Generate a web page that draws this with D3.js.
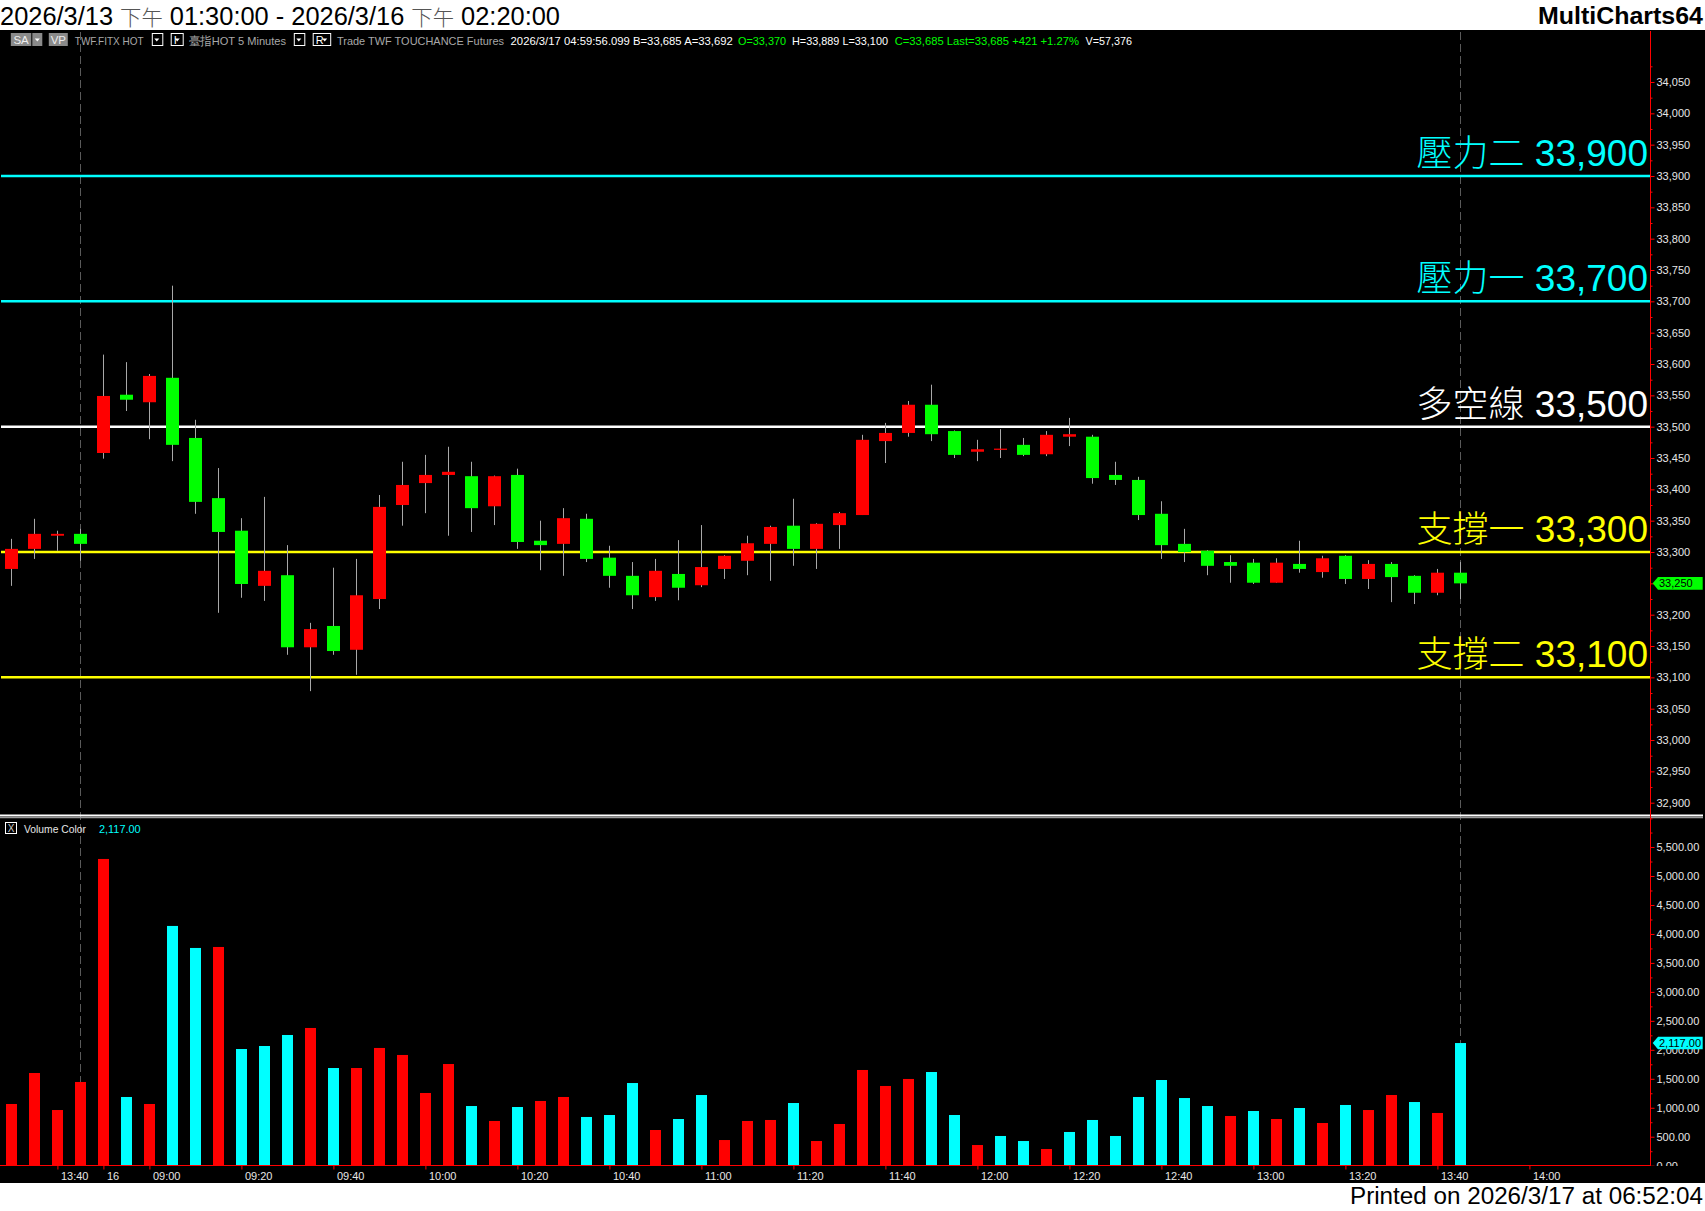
<!DOCTYPE html>
<html>
<head>
<meta charset="utf-8">
<script src="https://cdn.jsdelivr.net/npm/d3@7"></script>
<style>
body { margin: 0; background: #fff; }
svg { display: block; }
text { font-family: "Liberation Sans", Arial, sans-serif; }
.cjk { font-family: "Noto Sans CJK TC", "Noto Sans CJK SC", sans-serif; }
.axis text { fill: #e6e6e6; font-size: 11px; font-family: "Liberation Sans", Arial, sans-serif; }
.axis line { stroke: #ff0000; }
</style>
</head>
<body>
<script>
// TWF.FITX HOT 5 min bars, 3/13 13:30 .. 3/16 13:45 (index 0..63)
var opens = [33273, 33305, 33326, 33329, 33458, 33551, 33539, 33578, 33482, 33386,
             33334, 33246, 33263, 33148, 33182, 33144, 33225, 33375, 33410, 33423,
             33421, 33373, 33423, 33318, 33313, 33353, 33291, 33262, 33228, 33265,
             33247, 33273, 33286, 33313, 33342, 33305, 33343, 33359, 33477, 33490,
             33535, 33493, 33460, 33463, 33471, 33456, 33484, 33484, 33423, 33415,
             33361, 33313, 33302, 33284, 33283, 33251, 33281, 33268, 33294, 33257,
             33281, 33262, 33235, 33267];
var highs = [33321, 33353, 33334, 33337, 33615, 33603, 33584, 33725, 33511, 33434,
             33354, 33388, 33311, 33187, 33275, 33289, 33391, 33444, 33455, 33468,
             33444, 33422, 33433, 33350, 33370, 33361, 33310, 33284, 33289, 33319,
             33343, 33295, 33326, 33342, 33385, 33346, 33364, 33487, 33506, 33541,
             33567, 33494, 33479, 33496, 33482, 33493, 33514, 33487, 33444, 33420,
             33381, 33337, 33303, 33295, 33289, 33290, 33318, 33294, 33295, 33287,
             33284, 33263, 33273, 33284];
var lows = [33246, 33289, 33302, 33286, 33449, 33525, 33480, 33445, 33361, 33203,
            33227, 33222, 33136, 33078, 33136, 33104, 33209, 33342, 33362, 33326,
            33332, 33343, 33305, 33271, 33262, 33284, 33243, 33209, 33222, 33223,
            33244, 33257, 33263, 33254, 33278, 33273, 33305, 33359, 33442, 33484,
            33477, 33450, 33445, 33450, 33453, 33453, 33469, 33409, 33407, 33351,
            33289, 33284, 33263, 33251, 33249, 33251, 33267, 33259, 33249, 33241,
            33220, 33217, 33231, 33225];
var closes = [33305, 33329, 33329, 33313, 33549, 33543, 33581, 33471, 33380, 33332,
              33249, 33270, 33148, 33177, 33142, 33231, 33372, 33407, 33423, 33428,
              33370, 33421, 33316, 33311, 33354, 33289, 33262, 33231, 33270, 33243,
              33276, 33294, 33314, 33340, 33305, 33345, 33362, 33479, 33490, 33535,
              33488, 33455, 33464, 33465, 33455, 33487, 33488, 33418, 33415, 33359,
              33311, 33300, 33278, 33278, 33251, 33283, 33273, 33290, 33257, 33281,
              33260, 33235, 33267, 33250];
var volumes = [1065, 1600, 961, 1445, 5294, 1186, 1065, 4138, 3758, 3775,
               2014, 2066, 2256, 2377, 1686, 1686, 2032, 1911, 1255, 1755,
               1030, 772, 1013, 1117, 1186, 841, 875, 1427, 616, 806,
               1220, 443, 772, 789, 1082, 426, 720, 1652, 1376, 1497,
               1617, 875, 357, 513, 426, 288, 582, 789, 513, 1186,
               1479, 1168, 1030, 858, 944, 806, 996, 737, 1048, 961,
               1220, 1099, 910, 2117];
// 1 = red volume bar, 0 = cyan
var volUp = [1, 1, 1, 1, 1, 0, 1, 0, 0, 1,
             0, 0, 0, 1, 0, 1, 1, 1, 1, 1,
             0, 1, 0, 1, 1, 0, 0, 0, 1, 0,
             0, 1, 1, 1, 0, 1, 1, 1, 1, 1,
             0, 0, 1, 0, 0, 1, 0, 0, 0, 0,
             0, 0, 0, 1, 0, 1, 0, 1, 0, 1,
             1, 0, 1, 0];

var tickIdx = [2, 4, 6, 10, 14, 18, 22, 26, 30, 34, 38, 42, 46, 50, 54, 58, 62, 66];
var tickLabels = ["13:40", "16", "09:00", "09:20", "09:40", "10:00", "10:20", "10:40", "11:00",
                  "11:20", "11:40", "12:00", "12:20", "12:40", "13:00", "13:20", "13:40", "14:00"];
var sessionEnds = [3, 63];   // 13:45 bars

var levels = [33900, 33700, 33500, 33300, 33100];
var levelNames = ["壓力二", "壓力一", "多空線", "支撐一", "支撐二"];
var levelColors = ["#00ffff", "#00ffff", "#ffffff", "#ffff00", "#ffff00"];

var lastPrice = 33250;
var lastVolume = 2117;

var width = 1705, height = 1211;
var axisX = 1650;

var svg = d3.select("body").append("svg")
    .attr("width", width)
    .attr("height", height);

// backgrounds
svg.append("rect").attr("width", width).attr("height", height).attr("fill", "#fff");
svg.append("rect").attr("x", 0).attr("y", 30).attr("width", width).attr("height", 1153).attr("fill", "#000");

var x = d3.scaleLinear().domain([0, 63]).range([11.4, 1460.4]);
var y = d3.scaleLinear().domain([32900, 33900]).range([802.7, 176]);
var yv = d3.scaleLinear().domain([0, 5000]).range([1165.7, 876]);

// title + footer
var title = svg.append("text").attr("x", 0).attr("y", 25).attr("font-size", 25).attr("fill", "#000")
    .attr("textLength", 560).attr("lengthAdjust", "spacingAndGlyphs");
title.append("tspan").text("2026/3/13 ");
title.append("tspan").attr("class", "cjk").attr("fill", "#555").attr("font-weight", 300).attr("font-size", 21).text("下午");
title.append("tspan").text(" 01:30:00 - 2026/3/16 ");
title.append("tspan").attr("class", "cjk").attr("fill", "#555").attr("font-weight", 300).attr("font-size", 21).text("下午");
title.append("tspan").text(" 02:20:00");

svg.append("text").attr("x", 1703).attr("y", 23.5).attr("text-anchor", "end")
    .attr("font-size", 23).attr("font-weight", "bold").attr("fill", "#000")
    .attr("textLength", 165).attr("lengthAdjust", "spacingAndGlyphs")
    .text("MultiCharts64");

svg.append("text").attr("x", 1703).attr("y", 1203.5).attr("text-anchor", "end")
    .attr("font-size", 23).attr("fill", "#000")
    .attr("textLength", 353).attr("lengthAdjust", "spacingAndGlyphs")
    .text("Printed on 2026/3/17 at 06:52:04");

// info bar
var info = svg.append("g");
function grayBox(x0, w, label) {
    info.append("rect").attr("x", x0).attr("y", 33).attr("width", w).attr("height", 13).attr("fill", "#8a8a8a");
    info.append("text").attr("x", x0 + w / 2).attr("y", 44).attr("text-anchor", "middle")
        .attr("font-size", 11.5).attr("fill", "#eee").text(label);
}
function dropBox(x0, w, label) {
    info.append("rect").attr("x", x0 + 0.5).attr("y", 33.5).attr("width", w).attr("height", 12)
        .attr("fill", "#000").attr("stroke", "#fff");
    var ax = x0 + w - 5.5;
    if (label) {
        info.append("text").attr("x", x0 + 3).attr("y", 44).attr("font-size", 11).attr("fill", "#fff").text(label);
    }
    info.append("path").attr("d", "M" + (ax - 2.5) + ",38.5L" + (ax + 2.5) + ",38.5L" + ax + ",41.5Z").attr("fill", "#fff");
}
grayBox(10.8, 20.5, "SA");
info.append("rect").attr("x", 32.3).attr("y", 33).attr("width", 10).attr("height", 13).attr("fill", "#8a8a8a");
info.append("path").attr("d", "M34.8,38.5L39.8,38.5L37.3,41.5Z").attr("fill", "#fff");
grayBox(48.8, 19, "VP");
dropBox(151.8, 10.5, null);
dropBox(170.7, 12, "I");
dropBox(293.8, 10.5, null);
dropBox(312.7, 17.5, "R");

var infoTexts = [
    [74.8, 68.8, "TWF.FITX HOT", "#a8a8a8"],
    [188.6, 97.4, "臺指HOT 5 Minutes", "#a8a8a8"],
    [337, 167, "Trade TWF TOUCHANCE Futures", "#a8a8a8"],
    [510.6, 222.2, "2026/3/17 04:59:56.099 B=33,685 A=33,692", "#ffffff"],
    [738, 48, "O=33,370", "#00ff00"],
    [792, 96, "H=33,889 L=33,100", "#ffffff"],
    [894.7, 184.3, "C=33,685 Last=33,685 +421 +1.27%", "#00ff00"],
    [1085.5, 46.5, "V=57,376", "#ffffff"]
];
info.selectAll("text.info").data(infoTexts).enter().append("text")
    .attr("class", "info")
    .attr("x", function(d) { return d[0]; })
    .attr("y", 45)
    .attr("font-size", 11.5)
    .attr("fill", function(d) { return d[3]; })
    .attr("textLength", function(d) { return d[1]; })
    .attr("lengthAdjust", "spacingAndGlyphs")
    .text(function(d) { return d[2]; });

// session end dashed lines
svg.append("g").selectAll("line").data(sessionEnds).enter().append("line")
    .attr("x1", function(d) { return Math.round(x(d)) + 0.5; })
    .attr("x2", function(d) { return Math.round(x(d)) + 0.5; })
    .attr("y1", 32).attr("y2", 1165)
    .attr("stroke", "#5a5a5a").attr("stroke-dasharray", "8,4");

// level lines
var lv = svg.append("g");
lv.selectAll("line").data(levels).enter().append("line")
    .attr("x1", 1).attr("x2", axisX)
    .attr("y1", function(d) { return y(d); })
    .attr("y2", function(d) { return y(d); })
    .attr("stroke", function(d, i) { return levelColors[i]; })
    .attr("stroke-width", 2.5);

var lt = lv.selectAll("text").data(levels).enter().append("text")
    .attr("x", 1648).attr("y", function(d) { return y(d) - 10; })
    .attr("text-anchor", "end")
    .attr("font-size", 37)
    .attr("fill", function(d, i) { return levelColors[i]; });
lt.append("tspan").attr("class", "cjk").attr("font-weight", 300).attr("font-size", 36)
    .text(function(d, i) { return levelNames[i]; });
lt.append("tspan").text(function(d) { return " " + d3.format(",")(d); });

// candles
var bars = d3.range(opens.length);
var candle = svg.append("g");
candle.selectAll("line").data(bars).enter().append("line")
    .attr("x1", function(i) { return Math.round(x(i)) + 0.5; })
    .attr("x2", function(i) { return Math.round(x(i)) + 0.5; })
    .attr("y1", function(i) { return y(highs[i]); })
    .attr("y2", function(i) { return y(lows[i]); })
    .attr("stroke", "#a8a8a8");
candle.selectAll("rect").data(bars).enter().append("rect")
    .attr("x", function(i) { return Math.round(x(i)) - 6; })
    .attr("width", 13)
    .attr("y", function(i) { return y(Math.max(opens[i], closes[i])); })
    .attr("height", function(i) { return Math.max(1.2, Math.abs(y(opens[i]) - y(closes[i]))); })
    .attr("fill", function(i) { return closes[i] >= opens[i] ? "#ff0000" : "#00ff00"; });

// volume
svg.append("g").selectAll("rect").data(bars).enter().append("rect")
    .attr("x", function(i) { return Math.round(x(i)) - 5; })
    .attr("width", 11)
    .attr("y", function(i) { return yv(volumes[i]); })
    .attr("height", function(i) { return yv(0) - yv(volumes[i]); })
    .attr("fill", function(i) { return volUp[i] ? "#ff0000" : "#00ffff"; });

// panel separator
svg.append("line").attr("x1", 0).attr("x2", 1703).attr("y1", 815.5).attr("y2", 815.5)
    .attr("stroke", "#fff").attr("stroke-width", 2);
svg.append("line").attr("x1", 0).attr("x2", 1703).attr("y1", 817.6).attr("y2", 817.6)
    .attr("stroke", "#9a9a9a").attr("stroke-width", 1.4);

// volume legend
svg.append("rect").attr("x", 5.5).attr("y", 822.5).attr("width", 11).attr("height", 11)
    .attr("fill", "none").attr("stroke", "#fff");
svg.append("text").attr("x", 11).attr("y", 832).attr("text-anchor", "middle")
    .attr("font-size", 10).attr("fill", "#ccc").text("X");
svg.append("text").attr("x", 24).attr("y", 832.5).attr("font-size", 11).attr("fill", "#e6e6e6")
    .attr("textLength", 62).attr("lengthAdjust", "spacingAndGlyphs").text("Volume Color");
svg.append("text").attr("x", 99).attr("y", 832.5).attr("font-size", 11).attr("fill", "#00ffff")
    .attr("textLength", 41.6).attr("lengthAdjust", "spacingAndGlyphs").text(d3.format(",.2f")(lastVolume));

// axes
svg.append("line").attr("x1", axisX + 0.5).attr("x2", axisX + 0.5).attr("y1", 31).attr("y2", 1166)
    .attr("stroke", "#ff0000");
svg.append("line").attr("x1", 0).attr("x2", axisX).attr("y1", 1165.5).attr("y2", 1165.5)
    .attr("stroke", "#ff0000");

svg.append("g").attr("class", "axis")
    .attr("transform", "translate(" + (axisX + 0.5) + ",0)")
    .call(d3.axisRight(y).tickValues(d3.range(32900, 34051, 50)).tickFormat(d3.format(","))
        .tickSize(4).tickPadding(2));
svg.append("g").attr("class", "axis")
    .attr("transform", "translate(" + (axisX + 0.5) + ",0)")
    .call(d3.axisRight(y).tickValues(d3.range(32875, 34076, 50)).tickFormat("").tickSize(2));

svg.append("clipPath").attr("id", "volclip").append("rect")
    .attr("x", axisX).attr("y", 820).attr("width", 60).attr("height", 346);
svg.append("g").attr("class", "axis")
    .attr("clip-path", "url(#volclip)")
    .append("g")
    .attr("transform", "translate(" + (axisX + 0.5) + ",0)")
    .call(d3.axisRight(yv).tickValues(d3.range(0, 5501, 500)).tickFormat(d3.format(",.2f"))
        .tickSize(4).tickPadding(2));
svg.append("g").attr("class", "axis")
    .attr("transform", "translate(" + (axisX + 0.5) + ",0)")
    .call(d3.axisRight(yv).tickValues(d3.range(250, 5800, 500)).tickFormat("").tickSize(2));

var timeAxis = svg.append("g").attr("class", "axis")
    .attr("transform", "translate(0,1165.5)")
    .call(d3.axisBottom(x).tickValues(tickIdx)
        .tickFormat(function(d, i) { return tickLabels[i]; })
        .tickSize(4).tickPadding(3));
timeAxis.selectAll("text").attr("text-anchor", "start").attr("dx", 3);

svg.selectAll(".axis .domain").remove();

// last value markers (they sit on top of the axis labels, as in the original)
function marker(yc, fill, label) {
    svg.append("path")
        .attr("d", "M1652.7," + yc + "L1658," + (yc - 6.3) + "L1702.7," + (yc - 6.3) +
              "L1702.7," + (yc + 6.3) + "L1658," + (yc + 6.3) + "Z")
        .attr("fill", fill);
    svg.append("text").attr("x", 1659).attr("y", yc + 4).attr("font-size", 11)
        .attr("fill", "#000").text(label);
}
marker(y(lastPrice), "#00ff00", d3.format(",")(lastPrice));
marker(yv(lastVolume), "#00ffff", d3.format(",.2f")(lastVolume));
</script>
</body>
</html>
